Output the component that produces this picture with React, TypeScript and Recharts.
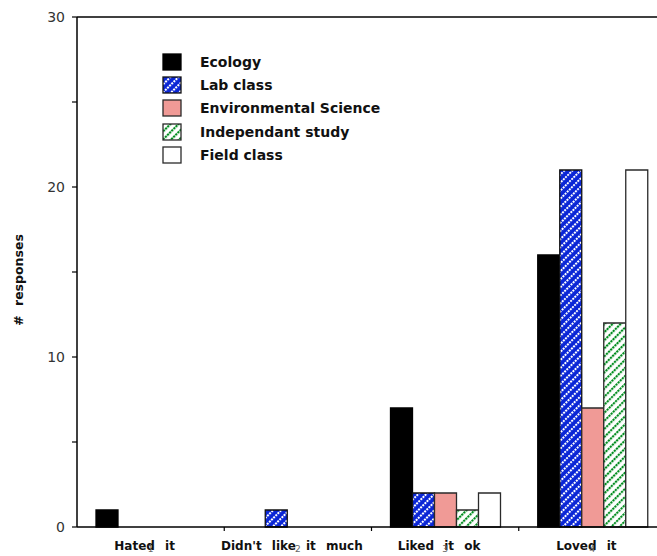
import { BarChart, Bar, XAxis, YAxis, ReferenceLine } from "recharts";

const categories = ["Hated it", "Didn't like it much", "Liked it ok", "Loved it"];
const ecology = [1, 0, 7, 16];
const labClass = [0, 1, 2, 21];
const envScience = [0, 0, 2, 7];
const independant = [0, 0, 1, 12];
const fieldClass = [0, 0, 2, 21];
const yTicks = [0, 5, 10, 15, 20, 25, 30];

const data = categories.map((name, i) => ({
  name,
  num: i + 1,
  ecology: ecology[i],
  lab: labClass[i],
  env: envScience[i],
  indep: independant[i],
  field: fieldClass[i],
}));

const series = [
  { key: "ecology", label: "Ecology", fill: "#000000", stroke: "#000000" },
  { key: "lab", label: "Lab class", fill: "url(#labHatch)", stroke: "#111111" },
  { key: "env", label: "Environmental Science", fill: "#f09a96", stroke: "#2a2a2a" },
  { key: "indep", label: "Independant study", fill: "url(#indepHatch)", stroke: "#2a2a2a" },
  { key: "field", label: "Field class", fill: "#ffffff", stroke: "#2a2a2a" },
];

const FONT = "'DejaVu Sans', Verdana, sans-serif";

function CategoryTick(props: any) {
  const { x, y, payload, index, width } = props;
  const band = width / categories.length;
  const d = data[index];
  return (
    <g>
      {index < categories.length - 1 && (
        <line x1={x + band / 2} y1={y} x2={x + band / 2} y2={y + 4} stroke="#000" strokeWidth={1.2} />
      )}
      <text
        x={x - 6}
        y={y + 23}
        textAnchor="middle"
        fontFamily={FONT}
        fontWeight="bold"
        fontSize={12}
        fill="#111"
        style={{ wordSpacing: "6px" }}
      >
        {payload.value}
      </text>
      <text x={x} y={y + 25} textAnchor="middle" fontFamily={FONT} fontSize={9} fill="#666">
        {d ? d.num : ""}
      </text>
    </g>
  );
}

function YTitle(props: any) {
  const { viewBox } = props;
  const cy = viewBox.y + viewBox.height / 2 + 8;
  const cx = 23;
  return (
    <text
      x={cx}
      y={cy}
      transform={`rotate(-90, ${cx}, ${cy})`}
      textAnchor="middle"
      fontFamily={FONT}
      fontWeight="bold"
      fontSize={12.5}
      fill="#111"
      style={{ wordSpacing: "5px" }}
    >
      # responses
    </text>
  );
}

function LegendBox() {
  return (
    <div
      style={{
        position: "absolute",
        left: 162,
        top: 50,
        fontFamily: FONT,
        fontWeight: "bold",
        fontSize: 14,
        color: "#111",
      }}
    >
      {series.map((s) => (
        <div key={s.key} style={{ display: "flex", alignItems: "center", height: 23.3 }}>
          <svg width={20} height={18} style={{ marginRight: 18 }}>
            <rect x={1} y={1} width={18} height={16} fill={s.fill} stroke={s.stroke} strokeWidth={1.3} />
          </svg>
          <span>{s.label}</span>
        </div>
      ))}
    </div>
  );
}

export default function App() {
  return (
    <div style={{ position: "absolute", left: 0, top: 0, width: 657, height: 556, background: "#fff", overflow: "hidden" }}>
      <BarChart
        width={657}
        height={556}
        data={data}
        margin={{ top: 17, right: -9, bottom: 0, left: 17 }}
        barSize={22}
        barGap={0}
      >
        <defs>
          <pattern id="labHatch" patternUnits="userSpaceOnUse" width={5.7} height={6} patternTransform="rotate(45)">
            <rect width={6} height={6} fill="#0a26d6" />
            <line x1={1} y1={0} x2={1} y2={6} stroke="#ffffff" strokeWidth={2} strokeDasharray="2 1" />
          </pattern>
          <pattern id="indepHatch" patternUnits="userSpaceOnUse" width={5.7} height={6} patternTransform="rotate(45)">
            <rect width={6} height={6} fill="#ffffff" />
            <line x1={1} y1={0} x2={1} y2={6} stroke="#008c1e" strokeWidth={2.2} strokeDasharray="2.2 0.8" />
          </pattern>
        </defs>
        <XAxis
          dataKey="name"
          interval={0}
          tickSize={0}
          tickMargin={0}
          height={29}
          axisLine={{ stroke: "#000", strokeWidth: 1.5 }}
          tick={<CategoryTick />}
        />
        <YAxis
          domain={[0, 30]}
          ticks={yTicks}
          width={60}
          tickSize={5}
          tickMargin={7}
          axisLine={{ stroke: "#000", strokeWidth: 1.5 }}
          tickLine={{ stroke: "#000", strokeWidth: 1.2 }}
          tickFormatter={(v: number) => (v % 10 === 0 ? String(v) : "")}
          tick={{ fontFamily: FONT, fontSize: 14, fill: "#333" }}
          label={<YTitle />}
        />
        <ReferenceLine y={30} stroke="#000" strokeWidth={1.5} />
        {series.map((s) => (
          <Bar
            key={s.key}
            dataKey={s.key}
            fill={s.fill}
            stroke={s.stroke}
            strokeWidth={1.3}
            isAnimationActive={false}
          />
        ))}
      </BarChart>
      <LegendBox />
    </div>
  );
}
